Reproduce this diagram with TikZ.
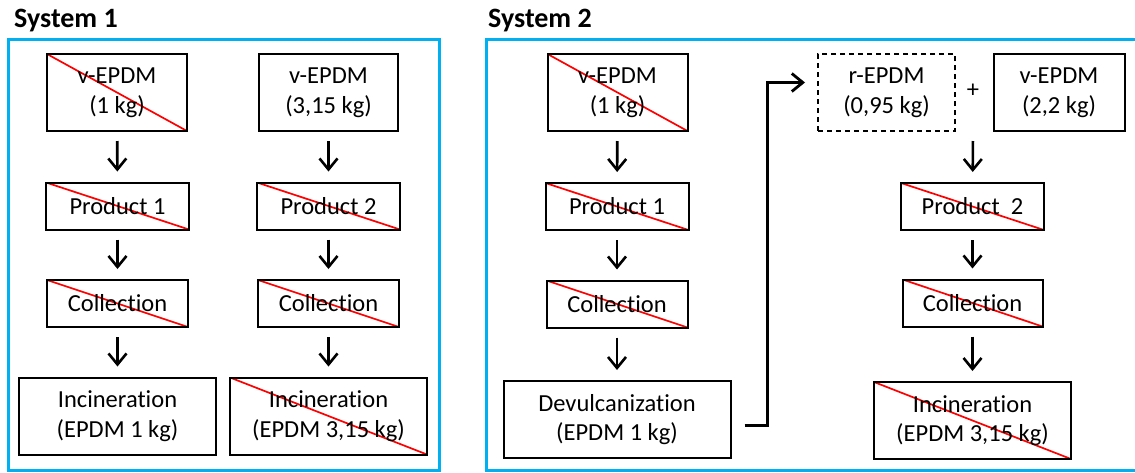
\documentclass[tikz,border=0pt]{standalone}
\usepackage{fontspec}
\setmainfont{Carlito}[Ligatures=NoCommon]
\usepackage{xcolor}
\usepackage{tikz}
\usetikzlibrary{arrows.meta}

\definecolor{sysblue}{RGB}{0,176,240}

\begin{document}
\begin{tikzpicture}[x=1pt, y=-1pt,
        every node/.style={font=\fontsize{24.5}{29.5}\selectfont, align=center, inner sep=0pt},
        box/.style={draw, line width=2pt, minimum height=77pt},
        lowbox/.style={draw, line width=2pt, minimum height=47pt},
        dashbox/.style={box, dash pattern=on 5pt off 4pt},
        crossed/.style={path picture={\draw[red, line width=1.7pt]
            (path picture bounding box.north west) -- (path picture bounding box.south east);}},
        title/.style={font=\fontsize{28}{32}\selectfont\bfseries, anchor=base west},
        frame/.style={draw=sysblue, line width=3pt},
        flow/.style={line width=2.6pt, -{Straight Barb[length=11pt, width=18pt, line width=2.6pt]},
            shorten <=9pt, shorten >=10pt}]
        \clip (0,0) rectangle (1135,472);

        % system 1
        \node[title] (t1) at (14,27) {System 1};
        \draw[frame] (8,39) rectangle (439,470);
        \node[box, crossed, minimum width=140pt] (s1va) at (117,92.5) {v-EPDM\\(1 kg)};
        \node[box, minimum width=139pt] (s1vb) at (328.5,92.5) {v-EPDM\\(3,15 kg)};
        \node[lowbox, crossed, minimum width=143pt] (s1pa) at (117.5,206) {Product 1};
        \node[lowbox, crossed, minimum width=143pt] (s1pb) at (328.5,206) {Product 2};
        \node[lowbox, crossed, minimum width=141pt] (s1ca) at (117.5,303.5) {Collection};
        \node[lowbox, crossed, minimum width=141pt] (s1cb) at (328.5,303.5) {Collection};
        \node[box, minimum width=197pt] (s1ia) at (117.5,416) {Incineration\\(EPDM 1 kg)};
        \node[box, crossed, minimum width=197pt] (s1ib) at (328.5,416) {Incineration\\(EPDM 3,15 kg)};

        \draw[flow] (s1va) -- (s1pa);
        \draw[flow] (s1pa) -- (s1ca);
        \draw[flow] (s1ca) -- (s1ia);
        \draw[flow] (s1vb) -- (s1pb);
        \draw[flow] (s1pb) -- (s1cb);
        \draw[flow] (s1cb) -- (s1ib);

        % system 2
        \node[title] (t2) at (488,27) {System 2};
        \draw[frame] (486,39) rectangle (1150,470);
        \node[box, crossed, minimum width=140pt] (s2v) at (617.5,92.5) {v-EPDM\\(1 kg)};
        \node[lowbox, crossed, minimum width=143pt] (s2p) at (617,206.5) {Product 1};
        \node[lowbox, crossed, minimum width=141pt] (s2c) at (617,304) {Collection};
        \node[box, minimum width=227pt] (s2d) at (617,419.5) {Devulcanization\\(EPDM 1 kg)};
        \node[dashbox, minimum width=137pt] (rep) at (886.5,92.5) {r-EPDM\\(0,95 kg)};
        \node (plus) at (973,91) {+};
        \node[box, minimum width=131pt] (vnew) at (1059,92.5) {v-EPDM\\(2,2 kg)};
        \node[lowbox, crossed, minimum width=143pt] (s2p2) at (972.5,206.5) {Product\ \ 2};
        \node[lowbox, crossed, minimum width=140pt] (s2c2) at (972.5,303) {Collection};
        \node[box, crossed, minimum width=197pt] (s2i) at (972.5,420.5) {Incineration\\(EPDM 3,15 kg)};
        \coordinate (mix) at (plus |- rep.south);

        \draw[flow] (s2v) -- (s2p);
        \draw[flow] (s2p) -- (s2c);
        \draw[flow] (s2c) -- (s2d);
        \draw[flow] (mix) -- (s2p2);
        \draw[flow] (s2p2) -- (s2c2);
        \draw[flow] (s2c2) -- (s2i);
        \draw[line width=2.8pt, -{Straight Barb[length=11pt, width=18pt, line width=2.8pt]}]
            ([xshift=13pt, yshift=-6pt]s2d.east) -- ++(23,0)
            |- ([xshift=-12pt, yshift=10pt]rep.west);
    \end{tikzpicture}
\end{document}
